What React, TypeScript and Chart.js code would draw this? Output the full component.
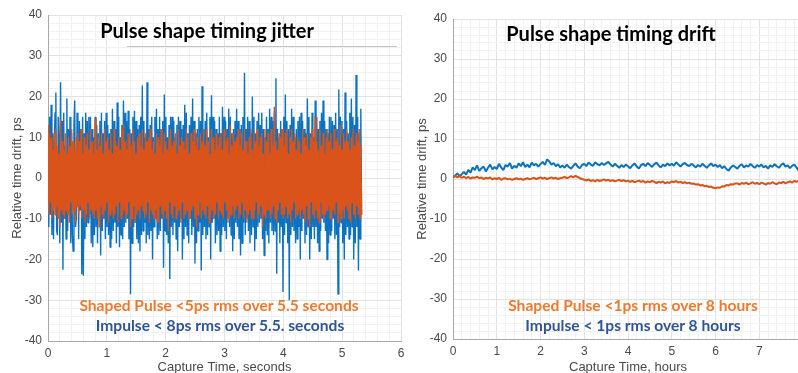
import React, { useEffect, useRef } from "react";
import { Chart, registerables } from "chart.js";
Chart.register(...registerables);

// ---------- data ----------
const JITTER_DURATION_S = 5.33; // capture length of the jitter record (seconds)
const DRIFT_DURATION_H = 8; // capture length of the drift record (hours)

const jitterTitle = "Pulse shape timing jitter";
const driftTitle = "Pulse shape timing drift";
const jitterNotes = ["Shaped Pulse <5ps rms over 5.5 seconds", "Impulse < 8ps rms over 5.5. seconds"];
const driftNotes = ["Shaped Pulse <1ps rms over 8 hours", "Impulse < 1ps rms over 8 hours"];
const yAxisTitle = "Relative time drift, ps";
const jitterXTitle = "Capture Time, seconds";
const driftXTitle = "Capture Time, hours";

const jitterImpulse = [
  13, -12, 15, -9, 18, -14, 11, -15, 9, 16, 21, -13, -14, 15, 10, -16, 23.5, -11, 14, -22.5,
  16, -10, 8, -15, 19.5, -13, 12, -9, 15, -16, 11, -14, -18, 13, 19, -12, -10, 16, 13, -15,
  14, -8, 12, -23.6, 15, -24, 11, -15, 16, -12, 14, -11, 15, -9, 15, -16, 12, -17, 10, -14,
  15, -12, 13, -16, 11, -9, 14, -19, 16, -13, 11, -10, 14, -15, 16, -12, 13, -14, 11, -17,
  12, -15, 17, -13, 14, -11, 12, -16, 18.5, -12, 15, -17, 10, -14, 13, -15, 19, -12, 16, -11,
  14, -10, 16.5, -15, 12, -28.5, 11, -16, 15, -12, 16.5, -11, 14, -15, 12, -16, 13, -18, 15, -14,
  22.7, -13, 14, -11, 10, -16, 23.5, -14, 12, -15, 13, -13, 15, -20, 10, -12, 15, -10, 17, -15,
  12, -14, 15, -13, 12, -10, 14, -22, 20.5, -13, 15, -14, 10, -16, 13, -24.8, 15, -12, 15, -14,
  14, -11, 10, -15, 13, -18, 15, -12, 14, -10, 12, -20, 13, -15, 18, -12, 16, -14, 11, -16,
  13, -10, 15, -14, 19.5, -12, 14, -21, 11, -16, 12, -13, 15, -11, 14, -22.7, 22.5, -14, 12, -12,
  14, -15, 16, -14, 10, -12, 15, -20, 20.3, -11, 15, -10, 14, -16, 12, -14, 11, -13, 15, -18,
  11, -14, 17.5, -12, 15, -13, 14, -15, 12, -10, 17, -12, 15, -14, 11, -18, 12, -15, 14, -11,
  17, -12, 14, -15, 12, -19, 13, -16, 15, -11, 25.8, -14, 12, -10, 15, -13, 14, -16, 11, -14,
  20, -12, 15, -18, 11, -15, 14, -12, 16, -11, 13, -10, 16, -15, 12, -19, 10, -13, 15, -14,
  12, -16, 17, -11, 15, -13, 14, -14, 16, -13, 24.5, -23.5, 12, -11, 10, -16, 14, -12, 12, -28,
  15, -14, 20.5, -11, 14, -16, 12, -30, 13, -14, 17, -12, 15, -13, 10, -16, 12, -15, 14, -12,
  15, -20, 16, -13, 14, -10, 12, -16, 11, -14, 19.5, -12, 15, -20, 11, -15, 16, -12, 10, -15,
  19, -12, 15, -16, 12, -18, 14, -13, 16, -10, 19, -11, 14, -13, 12, -20, 11, -16, 15, -14,
  15, -13, 14, -10, 13, -15, 16, -14, 12, -28.5, 21.7, -12, 15, -11, 14, -16, 12, -20, 21, -14,
  14, -12, 11, -15, 16, -14, 19.5, -12, 15, -20, 13, -16, 25.3, -12, 15, -22.7, 11, -15, 17, -9,
];

const jitterShaped = [
  13, -9, 11, -6, 10, -10, 7, -8, 11, -9, 12, -7, 8, -10, 6, -12, 14.5, -8, 9, -9,
  7, -10, 11, -8, 6, -9, 10, -11, 8, -6, 12, -9, 9, -8, 7, -11, 10, -7, 11, -9,
  9, -7, 12, -10, 6, -8, 10, -11, 8, -9, 11, -6, 7, -10, 12, -8, 9, -9, 6, -10,
  14.5, -8, 7, -10, 10, -12, 8, -7, 11, -9, 6, -10, 12, -8, 9, -6, 10, -11, 7, -9,
  11, -8, 6, -10, 12, -9, 9, -7, 8, -11, 10, -6, 7, -10, 12, -9, 13, -8, 9, -10,
  7, -9, 11, -6, 10, -12, 8, -10, 12, -7, 9, -11, 6, -9, 10, -8, 11, -10, 8, -7,
  12, -8, 7, -10, 11, -9, 9, -6, 10, -11, 12, -8, 7, -9, 9, -10, 6, -8, 11, -11,
  10, -11, 8, -7, 12, -9, 6, -10, 11, -8, 9, -10, 7, -13, 10, -6, 12, -9, 8, -10,
  9, -7, 11, -10, 6, -9, 12, -8, 8, -11, 10, -6, 9, -10, 7, -9, 12, -8, 10, -10,
  6, -10, 11, -8, 9, -7, 12, -10, 8, -12, 10, -9, 7, -6, 11, -10, 9, -8, 12, -9,
  8, -10, 12, -7, 9, -11, 6, -9, 12, -8, 10, -10, 7, -9, 11, -6, 8, -10, 10, -8,
  11, -9, 7, -10, 12, -6, 9, -8, 10, -11, 6, -10, 13, -9, 8, -7, 11, -10, 9, -8,
  10, -7, 12, -10, 8, -9, 11, -6, 7, -10, 12, -8, 9, -11, 6, -9, 10, -8, 12, -10,
  7, -10, 11, -8, 9, -6, 12, -10, 8, -9, 10, -7, 11, -12, 6, -9, 12, -10, 9, -8,
  11, -8, 6, -10, 12, -9, 8, -7, 17.5, -10, 9, -11, 7, -8, 11, -6, 10, -9, 12, -10,
  8, -9, 11, -7, 12, -10, 6, -9, 10, -11, 12, -8, 9, -6, 11, -10, 7, -9, 10, -8,
  9, -10, 6, -8, 12, -9, 10, -11, 8, -7, 11, -10, 7, -12, 10, -6, 12, -9, 9, -10,
  15, -8, 9, -10, 7, -11, 12, -6, 8, -9, 11, -10, 6, -9, 10, -8, 12, -7, 9, -10,
  11, -10, 7, -8, 12, -9, 9, -6, 10, -11, 8, -9, 13, -10, 7, -8, 11, -10, 9, -7,
  12, -8, 9, -10, 7, -11, 10, -6, 12, -9, 8, -10, 11, -7, 9, -9, 12, -10, 8, -9,
];

const driftImpulse = [
  0.3, 0.9, 1.4, 0.7, 1.2, 1.8, 1.1, 2.3, 1.6, 2.9,
  2.2, 3.4, 2.0, 2.7, 3.1, 1.9, 2.8, 3.6, 2.4, 3.0,
  2.5, 3.8, 2.9, 2.2, 3.5, 3.1, 4.0, 2.6, 3.3, 2.8,
  3.9, 3.2, 4.2, 3.0, 3.6, 2.9, 4.1, 3.4, 3.8, 3.1,
  3.7, 4.3, 3.5, 4.9, 4.4, 3.6, 4.0, 3.2, 3.7, 2.9,
  3.4, 2.8, 3.6, 3.0, 2.6, 3.3, 3.9, 3.1, 2.7, 3.5,
  3.8, 3.2, 4.1, 3.6, 3.3, 4.2, 3.7, 3.4, 4.0, 3.5,
  3.9, 4.3, 3.6, 3.1, 3.8, 3.3, 2.8, 3.5, 3.0, 3.6,
  3.2, 2.7, 3.4, 3.9, 3.1, 2.6, 3.5, 3.8, 3.2, 4.0,
  3.5, 3.0, 3.7, 4.1, 3.4, 2.9, 3.6, 3.2, 3.9, 3.4,
  3.8, 3.3, 4.2, 3.6, 3.1, 3.7, 4.0, 3.5, 3.2, 3.8,
  3.4, 2.9, 3.5, 3.1, 3.8, 3.3, 2.8, 3.4, 3.9, 3.2,
  3.6, 3.0, 3.5, 2.7, 3.2, 2.5, 2.1, 2.9, 3.4, 3.0,
  2.6, 3.3, 3.7, 2.9, 3.4, 3.1, 3.8, 3.2, 2.8, 3.5,
  3.1, 3.6, 2.9, 3.3, 2.6, 3.4, 3.0, 3.7, 3.2, 2.8,
  3.5, 3.9, 3.1, 3.4, 2.7, 3.3, 3.6, 2.9, 2.1, 2.8, 3.2,
];

const driftShaped = [
  0.5, 0.8, 0.4, 0.7, 0.3, 0.6, 0.2, 0.5, 0.1, 0.4,
  0.3, 0.6, 0.2, 0.4, 0.0, 0.3, 0.1, 0.4, -0.1, 0.2,
  0.0, 0.3, -0.2, 0.1, 0.2, -0.1, 0.1, -0.2, 0.0, 0.2,
  -0.1, 0.1, -0.2, 0.0, 0.2, -0.1, 0.1, 0.3, 0.0, 0.2,
  0.4, 0.1, 0.3, 0.0, 0.2, 0.4, 0.1, 0.3, 0.0, 0.2,
  0.3, 0.5, 0.2, 0.4, 0.7, 0.4, 0.8, 0.5, 0.2, 0.0,
  -0.2, -0.4, -0.1, -0.5, -0.3, -0.6, -0.2, -0.5, -0.3, -0.1,
  -0.4, -0.2, -0.5, -0.3, -0.6, -0.4, -0.2, -0.5, -0.3, -0.6,
  -0.4, -0.7, -0.5, -0.8, -0.6, -0.4, -0.7, -0.5, -0.9, -0.6,
  -0.8, -0.5, -0.7, -1.0, -0.7, -0.9, -0.6, -1.1, -0.8, -1.0,
  -0.6, -0.8, -0.5, -0.9, -0.7, -1.0, -0.8, -1.1, -0.9, -1.2,
  -1.1, -1.4, -1.3, -1.6, -1.5, -1.8, -1.7, -2.0, -1.9, -2.2,
  -2.3, -2.1, -2.2, -1.8, -1.9, -1.5, -1.6, -1.3, -1.4, -1.1,
  -1.1, -1.4, -1.0, -1.2, -0.9, -1.3, -1.1, -0.8, -1.2, -1.0,
  -1.3, -0.9, -1.1, -1.4, -1.0, -1.2, -0.8, -1.1, -1.3, -0.9,
  -1.0, -0.7, -1.1, -0.8, -0.6, -0.9, -0.5, -0.7, -0.4, -0.6, -0.3,
];

// ---------- styling ----------
const BLUE = "#0b72c2";
const ORANGE = "#d9531a";
const NOTE_ORANGE = "#ec7a30";
const NOTE_BLUE = "#2f5597";
const TEXT_FONT = "Lato, 'Open Sans', sans-serif";
const AXIS_FONT = "'Liberation Sans', Arial, sans-serif";

function toPoints(values: number[], duration: number) {
  const n = values.length;
  return values.map((y, i) => ({ x: (i * duration) / (n - 1), y }));
}

const isInt = (v: number) => Math.abs(v - Math.round(v)) < 1e-6;
const isTen = (v: number) => Math.abs(v / 10 - Math.round(v / 10)) < 1e-6;

function buildConfig(p: {
  impulse: number[];
  shaped: number[];
  duration: number;
  xMax: number;
  xTitle: string;
  width: number;
  padTop: number;
  padRight: number;
  xHeight: number;
}): any {
  return {
    type: "line",
    data: {
      datasets: [
        {
          label: "Shaped Pulse",
          data: toPoints(p.shaped, p.duration),
          borderColor: ORANGE,
          borderWidth: p.width,
          borderJoinStyle: "bevel",
          pointRadius: 0,
          tension: 0,
        },
        {
          label: "Impulse",
          data: toPoints(p.impulse, p.duration),
          borderColor: BLUE,
          borderWidth: p.width,
          borderJoinStyle: "bevel",
          pointRadius: 0,
          tension: 0,
        },
      ],
    },
    options: {
      animation: false,
      responsive: false,
      maintainAspectRatio: false,
      events: [],
      layout: { padding: { top: p.padTop, right: p.padRight, left: 0, bottom: 0 } },
      plugins: { legend: { display: false }, tooltip: { enabled: false }, title: { display: false } },
      scales: {
        x: {
          type: "linear",
          min: 0,
          max: p.xMax,
          afterFit: (s: any) => {
            s.height = p.xHeight;
          },
          border: { display: true, color: "#a8a8a8", width: 1 },
          grid: {
            drawTicks: false,
            color: (c: any) => (c.tick && isInt(c.tick.value) ? "#e2e2e2" : "#f1f1f1"),
          },
          ticks: {
            stepSize: 0.2,
            autoSkip: false,
            maxRotation: 0,
            padding: 5,
            color: "#4a4a4a",
            font: { family: AXIS_FONT, size: 12 },
            callback: (v: number) => (isInt(v) ? String(Math.round(v)) : ""),
          },
          title: {
            display: true,
            text: p.xTitle,
            color: "#4a4a4a",
            font: { family: AXIS_FONT, size: 13, lineHeight: 0.8 },
            padding: { top: 0, bottom: 0 },
          },
        },
        y: {
          type: "linear",
          min: -40,
          max: 40,
          afterFit: (s: any) => {
            s.width = 48;
          },
          border: { display: true, color: "#a8a8a8", width: 1 },
          grid: {
            drawTicks: false,
            color: (c: any) => (c.tick && isTen(c.tick.value) ? "#e2e2e2" : "#f1f1f1"),
          },
          ticks: {
            stepSize: 2,
            autoSkip: false,
            padding: 6,
            color: "#4a4a4a",
            font: { family: AXIS_FONT, size: 12 },
            callback: (v: number) => (isTen(v) ? String(Math.round(v)) : ""),
          },
          title: {
            display: true,
            text: yAxisTitle,
            color: "#4a4a4a",
            font: { family: AXIS_FONT, size: 13, lineHeight: 1.2 },
            padding: { top: 10, bottom: 0 },
          },
        },
      },
    },
  };
}

function ChartCanvas(props: { config: any; left: number; width: number }) {
  const ref = useRef<HTMLCanvasElement | null>(null);
  useEffect(() => {
    if (!ref.current) return;
    const chart = new Chart(ref.current, props.config);
    return () => chart.destroy();
  }, []);
  return (
    <canvas
      ref={ref}
      width={props.width}
      height={373}
      style={{ position: "absolute", left: props.left, top: 0, width: props.width, height: 373 }}
    />
  );
}

function Label(props: { text: string; x: number; y: number; size: number; color: string }) {
  return (
    <div
      style={{
        position: "absolute",
        left: props.x,
        top: props.y,
        transform: "translate(-50%, -50%)",
        whiteSpace: "nowrap",
        fontFamily: TEXT_FONT,
        fontWeight: 700,
        fontSize: props.size,
        color: props.color,
        lineHeight: 1,
      }}
    >
      {props.text}
    </div>
  );
}

export default function App() {
  const leftConfig = buildConfig({
    impulse: jitterImpulse,
    shaped: jitterShaped,
    duration: JITTER_DURATION_S,
    xMax: 6,
    xTitle: jitterXTitle,
    width: 1.4,
    padTop: 15,
    padRight: 11,
    xHeight: 32,
  });
  const rightConfig = buildConfig({
    impulse: driftImpulse,
    shaped: driftShaped,
    duration: DRIFT_DURATION_H,
    xMax: 8,
    xTitle: driftXTitle,
    width: 2,
    padTop: 19,
    padRight: 22,
    xHeight: 34,
  });
  return (
    <div
      style={{
        position: "absolute",
        left: 0,
        top: 0,
        width: 798,
        height: 373,
        overflow: "hidden",
        background: "#ffffff",
      }}
    >
      <ChartCanvas config={leftConfig} left={0} width={412} />
      <ChartCanvas config={rightConfig} left={405} width={420} />
      <div style={{ position: "absolute", left: 127, top: 46, width: 270, height: 1, background: "#c4c4c4" }} />
      <Label text={jitterTitle} x={207} y={30} size={20} color="#000" />
      <Label text={driftTitle} x={611} y={33} size={20} color="#000" />
      <Label text={jitterNotes[0]} x={219} y={306} size={15.6} color={NOTE_ORANGE} />
      <Label text={jitterNotes[1]} x={220} y={326} size={15.6} color={NOTE_BLUE} />
      <Label text={driftNotes[0]} x={633} y={306} size={15.6} color={NOTE_ORANGE} />
      <Label text={driftNotes[1]} x={633} y={326} size={15.6} color={NOTE_BLUE} />
    </div>
  );
}
